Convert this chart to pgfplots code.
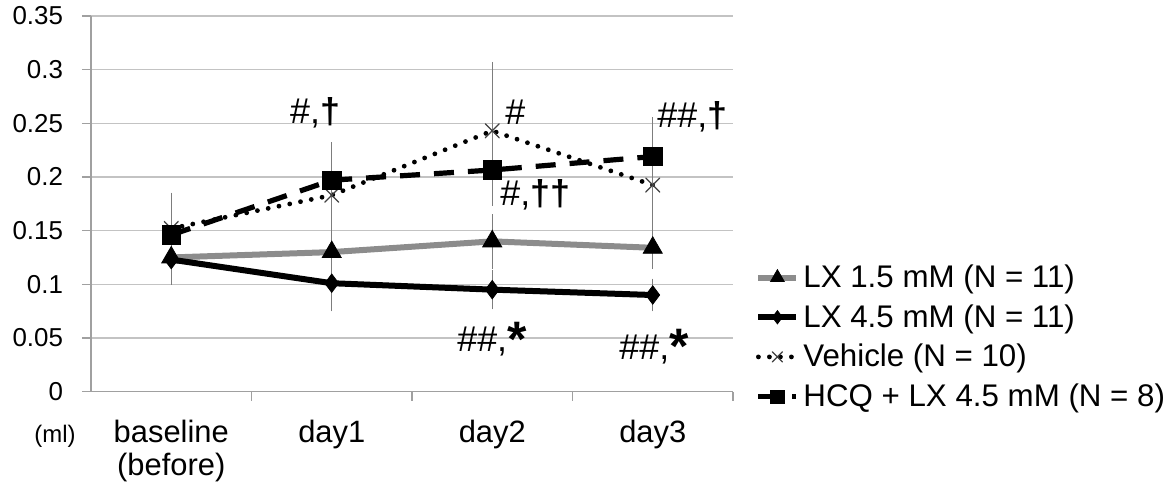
\documentclass[border=0pt]{standalone}
\usepackage{fontspec}
\setmainfont{Liberation Sans}
\usepackage{pgfplots}
\pgfplotsset{compat=1.18}
\definecolor{gridc}{RGB}{195,195,195}
\definecolor{axc}{RGB}{160,160,160}
\definecolor{lxg}{RGB}{140,140,140}
\definecolor{errc}{RGB}{125,125,125}
\newcommand{\dg}{\textbf{†}}
\newcommand{\st}{\raisebox{-0.12em}{\fontsize{25}{25}\selectfont\textbf{*}}}
\begin{document}
\begin{tikzpicture}
\path[use as bounding box] (-45.5bp,-47.7bp) rectangle (539bp,195.8bp);
\begin{axis}[
  at={(0,0)}, anchor=south west,
  scale only axis, width=321bp, height=187.8bp,
  xmin=-0.5, xmax=3.5, ymin=0, ymax=0.35,
  axis lines*=left,
  axis line style={axc, line width=0.6bp},
  xtick={0,1,2,3},
  xticklabels={{baseline\\(before)},day1,day2,day3},
  xticklabel style={align=center, font=\fontsize{15.5}{17}\selectfont, yshift=-6bp},
  major x tick style={draw=none},
  minor xtick={0.5,1.5,2.5,3.5},
  minor tick length=4.5bp,
  major tick length=4.5bp,
  tick align=outside,
  tick style={axc, line width=0.6bp},
  ytick={0,0.05,0.1,0.15,0.2,0.25,0.3,0.35},
  yticklabels={0,0.05,0.1,0.15,0.2,0.25,0.3,0.35},
  yticklabel style={font=\fontsize{13}{15}\selectfont, xshift=-6bp},
  ymajorgrids, grid style={gridc, line width=0.6bp},
  legend style={at={(1.025,0.36)}, anchor=north west, draw=none, fill=none,
    font=\fontsize{15.7}{18}\selectfont, row sep=3bp,
    nodes={inner sep=2bp}},
  legend cell align=left,
  legend image code/.code={\draw[mark repeat=2,mark phase=2,#1, every mark/.append style={scale=0.72}] plot coordinates {(0bp,0bp) (9.5bp,0bp) (19bp,0bp)};},
  error bars/error bar style={errc, line width=0.5bp, solid},
  error bars/error mark options={errc, mark size=1.8bp, line width=0.5bp, solid},
  clip=false,
]
\addplot[lxg, line width=3bp, mark=triangle*, mark size=5.5bp,
  mark options={black, fill=black, solid, line width=0.4bp},
  error bars/.cd, y dir=both, y explicit]
  coordinates {(0,0.125) +- (0,0.020) (1,0.130) +- (0,0.015) (2,0.140) +- (0,0.022) (3,0.134) +- (0,0.016)};
\addlegendentry{LX 1.5 mM (N = 11)}
\addplot[black, line width=3bp, mark=diamond*, mark size=4.6bp,
  mark options={black, fill=black, solid, line width=0.4bp},
  error bars/.cd, y dir=both, y explicit]
  coordinates {(0,0.123) +- (0,0.020) (1,0.101) +- (0,0.023) (2,0.095) +- (0,0.015) (3,0.090) +- (0,0.012)};
\addlegendentry{LX 4.5 mM (N = 11)}
\addplot[black, line width=2.4bp, line cap=round, dash pattern=on 0bp off 5.5bp,
  mark=x, mark size=5bp, mark options={black!75, line width=0.6bp, solid},
  error bars/.cd, y dir=both, y explicit]
  coordinates {(0,0.152) +- (0,0.030) (1,0.183) +- (0,0.040) (2,0.243) +- (0,0.061) (3,0.1925) +- (0,0.060)};
\addlegendentry{Vehicle (N = 10)}
\addplot[black, line width=2.6bp, dash pattern=on 10bp off 7bp,
  mark=square*, mark size=4.6bp, mark options={black, fill=black, solid, line width=0.4bp},
  error bars/.cd, y dir=both, y explicit]
  coordinates {(0,0.146) +- (0,0.020) (1,0.197) +- (0,0.032) (2,0.2065) +- (0,0.030) (3,0.219) +- (0,0.021)};
\addlegendentry{HCQ + LX 4.5 mM (N = 8)}
\node[font=\fontsize{18}{20}\selectfont] at (axis cs:0.896,0.2596) {\#,\dg};
\node[font=\fontsize{18}{20}\selectfont, anchor=west, inner sep=0pt] at (axis cs:2.08,0.2604) {\#};
\node[font=\fontsize{18}{20}\selectfont, anchor=west, inner sep=0pt] at (axis cs:3.027,0.2558) {\#\#,\dg};
\node[font=\fontsize{18}{20}\selectfont, anchor=west, inner sep=0pt] at (axis cs:2.048,0.183) {\#,\dg\dg};
\node[font=\fontsize{18}{20}\selectfont, anchor=base west, inner sep=0pt] at (axis cs:1.78,0.037) {\#\#,\st};
\node[font=\fontsize{18}{20}\selectfont, anchor=base west, inner sep=0pt] at (axis cs:2.79,0.030) {\#\#,\st};
\node[font=\fontsize{12}{14}\selectfont] at (rel axis cs:-0.056,-0.118) {(ml)};
\end{axis}
\end{tikzpicture}
\end{document}
